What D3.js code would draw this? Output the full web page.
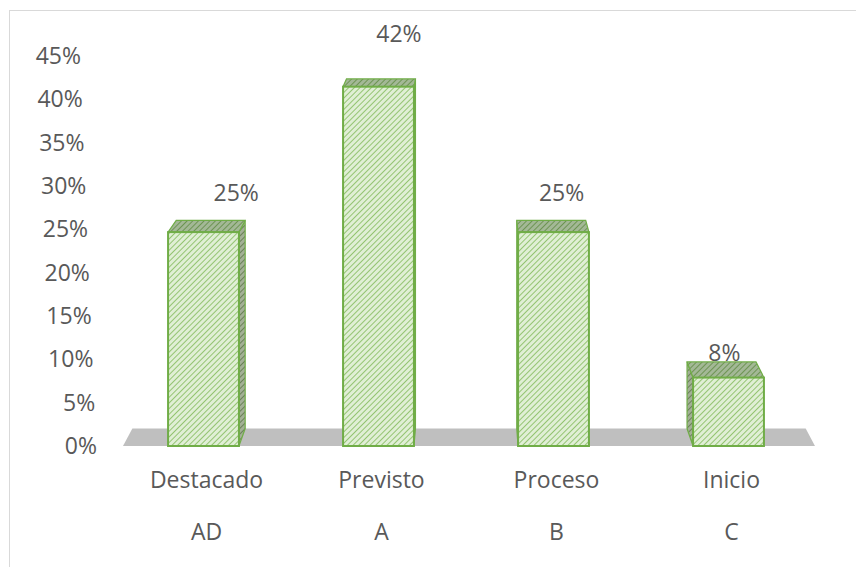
<!DOCTYPE html>
<html>
<head>
<meta charset="utf-8">
<script src="https://cdn.jsdelivr.net/npm/d3@7"></script>
<style>
  body { margin: 0; background: #fff; }
  svg text { font-family: "Open Sans", "Noto Sans", sans-serif; fill: #595959; font-size: 23px; }
</style>
</head>
<body>
<svg id="chart" width="856" height="567"></svg>
<script>
// data
var levels = ["Destacado", "Previsto", "Proceso", "Inicio"];
var codes = ["AD", "A", "B", "C"];
var percents = [25, 42, 25, 8];
var yTicks = [0, 5, 10, 15, 20, 25, 30, 35, 40, 45];

var svg = d3.select("#chart"),
    width = +svg.attr("width"),
    height = +svg.attr("height");

// outer frame of the chart area
svg.append("rect")
    .attr("x", 9.5).attr("y", 10.5)
    .attr("width", 900).attr("height", 700)
    .attr("fill", "#fff")
    .attr("stroke", "#d9d9d9");

var x = d3.scaleBand().domain(levels).range([116, 816]);
var y = d3.scaleLinear().domain([0, 45]).range([446, 61]);
var yLab = d3.scaleLinear().domain([0, 45]).range([446, 56]);
var xLab = d3.scaleLinear().domain([0, 45]).range([97, 81]);

// simple perspective: depth z (0 front .. 1 back) pulls points toward a vanishing point
var vx = 470, vy = -200, k = 0.027;
function proj(px, py, z) {
  return [px + z * k * (vx - px), py + z * k * (vy - py)];
}
function poly(pts) { return pts.map(function(p) { return p.join(","); }).join(" "); }

// hatch patterns
var defs = svg.append("defs");
function hatch(id, bg, fg, w) {
  var p = defs.append("pattern")
      .attr("id", id)
      .attr("patternUnits", "userSpaceOnUse")
      .attr("width", 4).attr("height", 4)
      .attr("patternTransform", "rotate(45)");
  p.append("rect").attr("width", 4).attr("height", 4).attr("fill", bg);
  p.append("line").attr("x1", 0).attr("y1", 0).attr("x2", 0).attr("y2", 4)
      .attr("stroke", fg).attr("stroke-width", w);
}
hatch("front", "#e0efd5", "#86bd60", 1.7);
hatch("side", "#a3b096", "#667f52", 1.9);
hatch("top", "#a3b896", "#67904b", 1.8);

// floor (slightly inset from the band range)
var fx0 = x.range()[0] + 7, fx1 = x.range()[1] - 1, fy = y(0);
svg.append("polygon")
    .attr("points", poly([[fx0, fy], [fx1, fy], proj(fx1, fy, 1), proj(fx0, fy, 1)]))
    .attr("fill", "#bfbfbf");

// y axis labels
svg.append("g").selectAll("text")
    .data(yTicks)
    .enter().append("text")
      .attr("x", function(d) { return xLab(d); })
      .attr("y", function(d) { return yLab(d); })
      .attr("dy", "0.35em")
      .attr("text-anchor", "end")
      .text(function(d) { return d + "%"; });

var bw = x.bandwidth() * 0.405;
var bars = svg.append("g").selectAll("g.bar")
    .data(levels.map(function(l, i) { return { level: l, code: codes[i], v: percents[i] }; }))
    .enter().append("g").attr("class", "bar");

bars.each(function(d) {
  var g = d3.select(this);
  var cx = x(d.level) + x.bandwidth() / 2,
      x0 = cx - bw / 2, x1 = cx + bw / 2,
      yt = y(d.v), yb = y(0);
  // side face
  var sx = cx < vx ? x1 : x0;
  g.append("polygon")
      .attr("points", poly([[sx, yt], proj(sx, yt, 1), proj(sx, yb, 1), [sx, yb]]))
      .attr("fill", "url(#side)")
      .attr("stroke", "#70ad47").attr("stroke-width", 1.2);
  // top face
  g.append("polygon")
      .attr("points", poly([[x0, yt], [x1, yt], proj(x1, yt, 1), proj(x0, yt, 1)]))
      .attr("fill", "url(#top)")
      .attr("stroke", "#70ad47").attr("stroke-width", 1.2);
  // front face
  g.append("rect")
      .attr("x", x0).attr("y", yt)
      .attr("width", bw).attr("height", yb - yt)
      .attr("fill", "url(#front)")
      .attr("stroke", "#70ad47").attr("stroke-width", 2);
  // data label
  var back = proj(cx, y(d.v * 1.13), 1);
  var shift = proj(cx, yt, 1)[0] - cx;
  g.append("text")
      .attr("x", cx + 14 + 2.6 * shift)
      .attr("y", back[1])
      .attr("dy", "0.35em")
      .attr("text-anchor", "middle")
      .text(d.v + "%");
});

// category labels, two rows
var cats = svg.append("g");
cats.selectAll("text.lvl")
    .data(levels)
    .enter().append("text")
      .attr("class", "lvl")
      .attr("x", function(d) { return x(d) + x.bandwidth() / 2 + 3; })
      .attr("y", 480)
      .attr("dy", "0.35em")
      .attr("text-anchor", "middle")
      .text(function(d) { return d; });
cats.selectAll("text.code")
    .data(codes)
    .enter().append("text")
      .attr("class", "code")
      .attr("x", function(d, i) { return x(levels[i]) + x.bandwidth() / 2 + 3; })
      .attr("y", 532)
      .attr("dy", "0.35em")
      .attr("text-anchor", "middle")
      .text(function(d) { return d; });
</script>
</body>
</html>
